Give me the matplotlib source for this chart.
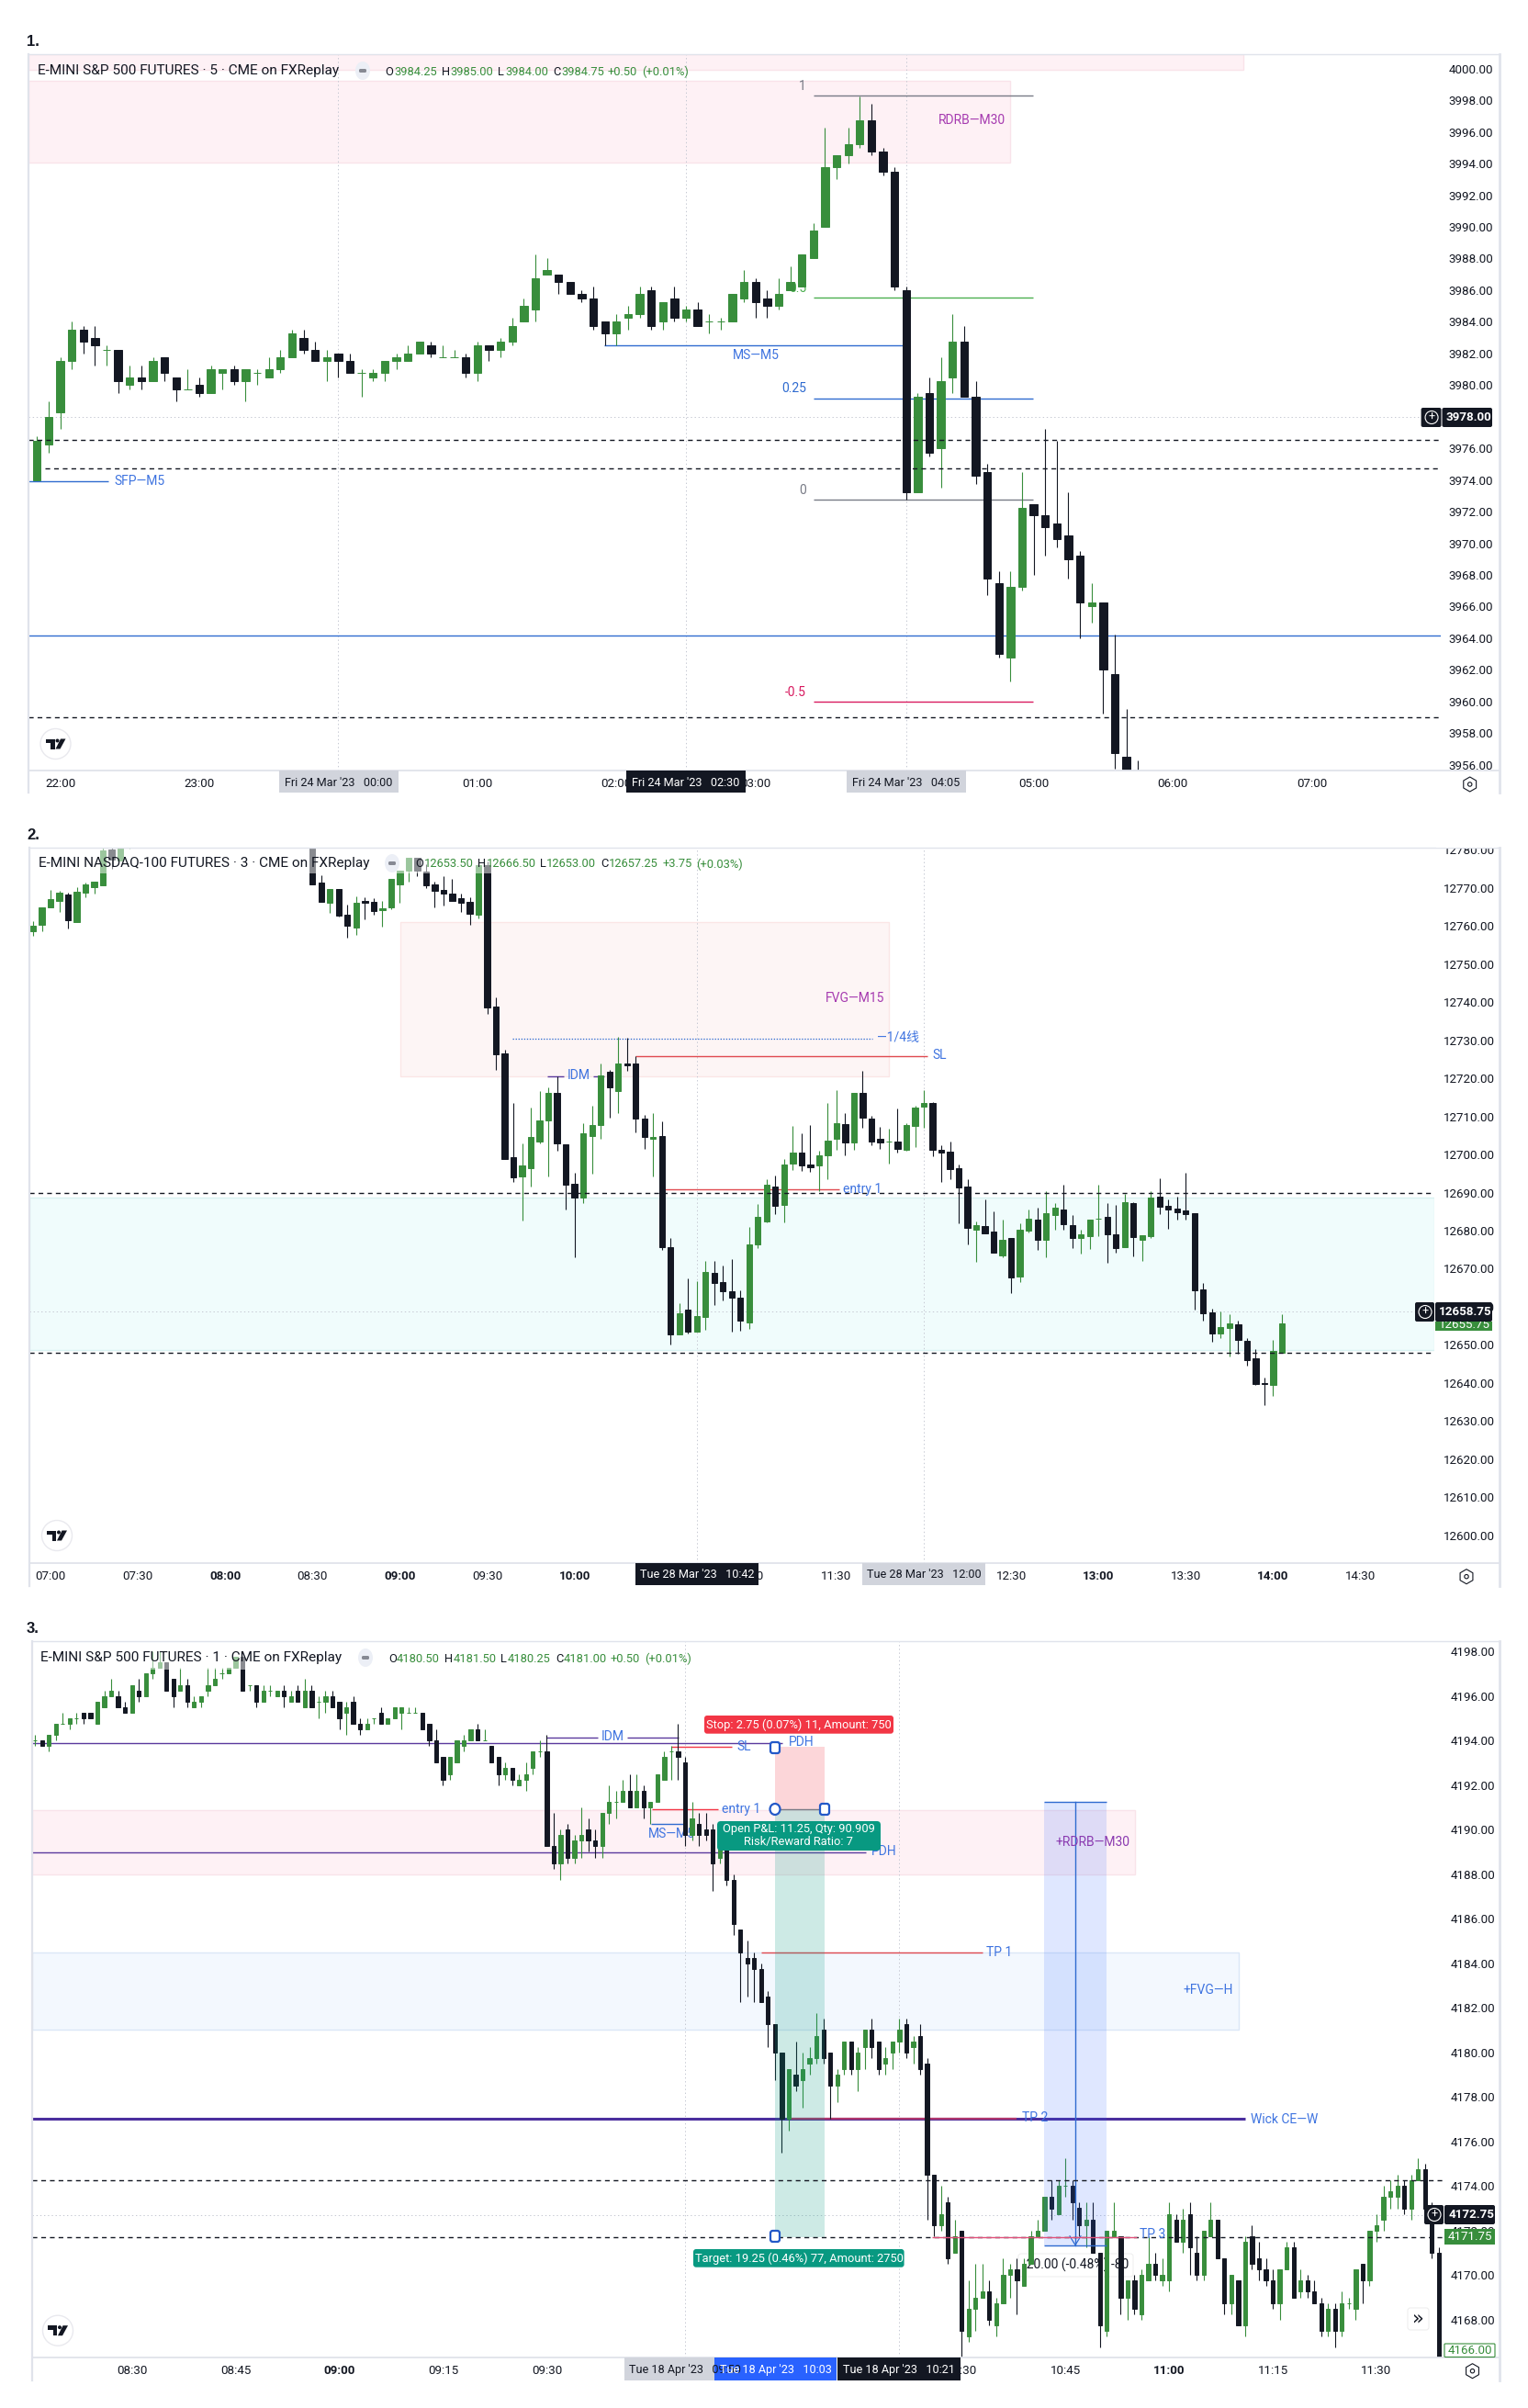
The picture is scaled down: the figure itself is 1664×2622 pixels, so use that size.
import matplotlib
matplotlib.use('Agg')
import matplotlib.pyplot as plt
import numpy as np
from matplotlib.lines import Line2D
from matplotlib.patches import Rectangle, Circle, Ellipse, Polygon, RegularPolygon, FancyBboxPatch
from matplotlib.transforms import Affine2D, blended_transform_factory

plt.rcParams['font.family'] = ['Liberation Sans Narrow', 'Roboto', 'Noto Sans CJK SC', 'DejaVu Sans']
plt.rcParams['lines.scale_dashes'] = False

# chart 1, 5 minute bars
o1 = [3974,3976.25,3978.25,3981.5,3983.5,3983,3982.25,3982.25,3980,3980.5,
      3980.25,3981.75,3980.5,3979.75,3980,3979.5,3980.75,3981,3980.25,3980.75,
      3980.5,3981,3981.75,3983,3982.25,3981.5,3982,3981.5,3980.75,3980.5,
      3980.75,3981.5,3981.5,3982,3982.5,3981.75,3981.75,3981.75,3980.75,3982.5,
      3982.25,3982.75,3984,3984.75,3987,3987,3986.5,3985.75,3985.5,3984,
      3983.25,3984.25,3984.5,3986,3984,3985.5,3984.25,3984.75,3984,3984,
      3984,3985.5,3986.5,3985.5,3985,3986,3986.25,3988,3990,3993.75,
      3994.5,3995.25,3996.75,3994.75,3993.5,3986,3973.25,3979.5,3976,3980.5,
      3982.75,3979.25,3974.5,3967.5,3962.75,3967.25,3972.5,3971.75,3971.25,3970.5,
      3969.25,3966,3966.25,3961.75,3956.5,3955]
h1 = [3976.75,3979,3981.75,3984,3983.75,3983.75,3982.5,3982.25,3981.25,3981.25,
      3981.75,3981.75,3980.5,3981,3980.5,3981.25,3981,3981.25,3981,3981,
      3981.75,3982.25,3983.5,3983.5,3982.75,3982.25,3982,3982,3981,3981,
      3981.5,3982,3982.5,3982.75,3982.75,3982.5,3982.25,3982,3982.75,3982.5,
      3983,3984.25,3985.5,3988.25,3988,3987,3986.5,3986,3986.25,3984,
      3984.5,3985,3986.25,3986.25,3985.25,3986.25,3985,3985.25,3984.5,3984.25,
      3985.75,3987.25,3986.75,3986,3986.75,3987.5,3988.25,3990.25,3996.25,3994.5,
      3996.25,3998.25,3997.75,3995,3993.75,3986.25,3979.5,3980.5,3981.75,3984.5,
      3983.75,3980.25,3975,3968.25,3968.25,3974.5,3972.5,3977.25,3976.5,3973.25,
      3969.5,3967.5,3966.25,3964.25,3959.5,3956.25]
l1 = [3974,3975.75,3977.25,3981,3982,3981.25,3981.25,3979.5,3979.75,3979.75,
      3980.25,3980.25,3979,3979.75,3979.25,3979.5,3979.75,3980,3979,3980,
      3980.5,3980.75,3981.75,3982,3981.5,3980.25,3980.5,3980.75,3979.25,3980.25,
      3980.25,3981,3981.5,3982,3981.75,3981.75,3981.75,3980.5,3980.25,3981.5,
      3981.75,3982.5,3984,3984,3987,3985.75,3985.75,3985.25,3983.5,3982.5,
      3982.5,3983.5,3984.25,3983.5,3983.5,3984,3984,3983.75,3983.25,3983.5,
      3984,3985.25,3984.25,3984.25,3984.75,3986,3986.25,3988,3990,3993,
      3994,3995,3994.5,3993.25,3986,3972.75,3973.25,3975.5,3973.5,3979.5,
      3979.25,3973.75,3966.75,3962.75,3961.25,3967,3968,3969.25,3969.75,3967.75,
      3964,3965,3959.25,3955.75,3955,3954]
c1 = [3976.5,3978,3981.5,3983.5,3982.75,3982.5,3982.25,3980.25,3980.5,3980.25,
      3981.5,3980.75,3979.75,3979.75,3979.5,3981,3981,3980.25,3981,3980.75,
      3981,3981.75,3983.25,3982.25,3981.5,3981.75,3981.5,3980.75,3980.75,3980.75,
      3981.5,3981.75,3982,3982.75,3982,3981.75,3981.75,3980.75,3982.5,3982.25,
      3982.75,3983.75,3985,3986.75,3987.25,3986.5,3985.75,3985.5,3983.75,3983.25,
      3984,3984.5,3985.75,3983.75,3985.25,3984.25,3984.75,3983.75,3984,3984,
      3985.75,3986.5,3985.25,3985,3985.75,3986.5,3988.25,3989.75,3993.75,3994.5,
      3995.25,3996.75,3994.75,3993.5,3986.25,3973.25,3979.25,3975.75,3980.25,3982.75,
      3979.25,3974.25,3967.75,3963,3967.25,3972.25,3971.75,3971,3970.25,3969,
      3966.25,3966.25,3962,3956.75,3955.25,3954.5]
x1 = list(range(96))
yticks1 = [3956,3958,3960,3962,3964,3966,3968,3970,3972,3974,3976,3978,3980,3982,3984,3986,3988,3990,3992,3994,3996,3998,4000]
xticks1 = [2,14,38,50,62,86,98,110]
xlabels1 = ['22:00','23:00','01:00','02:00','03:00','05:00','06:00','07:00']

# chart 2, 3 minute bars (the ones between 12 and 31 are above the visible range)
x2 = list(range(12)) + list(range(32,144))
o2 = [12758.5,12760.25,12765,12766.5,12768.25,12761,12768.75,12770.25,12770.75,12780,12777.25,12782,
      12782,12771.5,12766,12769.75,12763,12759.5,12766.5,12766.25,
      12764.25,12765,12771,12774.5,12778,12774.25,12771,12769.5,12768.5,12767.25,
      12766.25,12763,12776,12738.75,12726.5,12699.25,12694.25,12696.5,12703.5,12709,
      12716.25,12702.75,12692.25,12688.75,12704.75,12707.75,12721.75,12716.75,12724,12724,
      12709.5,12704,12704.75,12675.75,12652.75,12659.25,12653.5,12657.25,12669,12666.5,
      12664,12662.5,12656,12676.5,12682.5,12691.5,12686.75,12697.5,12700.5,12697.25,
      12697,12699.75,12704,12708,12703.25,12716.25,12709.5,12704,12703.5,12703.5,
      12701.25,12707.5,12712.5,12713.5,12701.25,12700.75,12696.5,12691.5,12680.25,12681.25,
      12679.75,12673.5,12678,12668,12680,12683,12677.5,12684,12685.5,12681.5,
      12678,12678.5,12683.25,12683.5,12679,12675.75,12687.25,12677.5,12678.5,12689,
      12686.5,12685.75,12685.25,12684.5,12664.5,12658.5,12653,12654.5,12655.5,12651,
      12646.5,12640,12639.5,12648]
h2 = [12761.25,12765,12769.5,12769.25,12768.75,12770.25,12771.5,12771.75,12780.5,12781,12783,12786,
      12783,12773.25,12769.75,12769.75,12765.5,12767.75,12767.5,12767.25,
      12766.5,12772.25,12774.5,12778,12778,12776.25,12771.75,12773,12772.25,12768.5,
      12767.5,12777,12777,12741.25,12727.5,12713.5,12703,12712.25,12716.75,12717.5,
      12720.5,12702.75,12695.25,12708.25,12712.75,12724,12722.25,12731,12730.75,12725.75,
      12710.5,12710.75,12708.75,12678,12661,12667.5,12666.75,12672,12672,12670.75,
      12672.5,12664.25,12681,12687,12693.5,12694.5,12698.75,12707.5,12705.5,12707.75,
      12701,12713.5,12717,12710.75,12716.25,12722,12710.25,12707.25,12706.75,12712,
      12708.25,12712.75,12717,12713.75,12702.5,12703.5,12697.25,12693.5,12682.5,12688.25,
      12685,12683,12678,12682,12685.5,12686,12690.25,12687.25,12692,12684,
      12680.25,12683,12692,12687.25,12686.75,12689.75,12687.5,12678.75,12690.25,12693.75,
      12688.25,12689,12695.25,12684.5,12666.25,12659.5,12658.75,12658,12656.25,12651.75,
      12649,12641.5,12651.25,12658]
l2 = [12757.5,12758.5,12765,12763.75,12759.25,12761,12767.5,12768.5,12770.75,12775,12777.25,12780.25,
      12771,12766.25,12763.5,12762.5,12757,12757.75,12761.75,12763,
      12759.75,12764.5,12766,12771.75,12773,12770,12765,12765.25,12766.5,12763.75,
      12760.25,12762,12737,12722.25,12698.75,12692.75,12682.75,12691.5,12703,12694.25,
      12701,12685.5,12673,12687.25,12695,12704,12709.75,12710.75,12722,12705.75,
      12701.5,12694.25,12675,12650,12652.75,12653,12653.5,12654,12660.5,12661.75,
      12653.5,12653.75,12654.25,12675.5,12682.25,12684.25,12682.25,12696,12695.75,12695.5,
      12690.25,12693.5,12701.25,12699.75,12701.25,12707,12702.5,12701.5,12697.5,12700.5,
      12701,12702,12707,12699.5,12692.75,12693.5,12682,12676.5,12671.75,12679.25,
      12674.25,12673,12663.5,12666.5,12679.5,12675,12673,12680.25,12680.25,12675.5,
      12674,12675.25,12678.5,12671.5,12674.25,12675.75,12673.25,12672,12678,12684.25,
      12680.5,12683,12683,12659.25,12656.25,12650.75,12651.75,12647,12647.75,12644.5,
      12639.5,12634.25,12636.5,12648]
c2 = [12760,12765,12767,12768.75,12761.5,12769,12771,12771.75,12779.75,12777.5,12781.5,12784,
      12771,12766.25,12769.75,12762.75,12760,12766,12766,12764,
      12764.75,12772.25,12774.5,12778,12774.5,12770.75,12769.25,12768.5,12766.5,12766,
      12763.25,12776,12738.5,12726.25,12698.75,12694,12697,12704.5,12709,12716.25,
      12703,12692,12688.75,12705.5,12707.75,12720.75,12717.5,12724,12723.5,12709.5,
      12704.5,12704.5,12675.75,12652.75,12658.25,12653.5,12657.5,12669.25,12666.25,12664,
      12662.5,12656.25,12676.5,12683.5,12692,12686.5,12697.25,12700.5,12697,12696.75,
      12699.75,12703.75,12708.25,12703.25,12716.25,12709.75,12703.5,12703.25,12703.5,12701.5,
      12707.75,12712.25,12713.5,12701.25,12700.5,12696.25,12691.25,12680.75,12681.5,12679.25,
      12674.25,12677.5,12667.75,12680.25,12683.25,12677.5,12684.5,12686,12681.75,12678,
      12679,12683,12683.25,12679,12675.5,12687.5,12678.25,12678.75,12688.75,12686.25,
      12685.5,12684.75,12684.25,12664.25,12658.25,12653,12654.75,12655.75,12651.25,12646,
      12639.75,12639.75,12648.5,12655.75]
yticks2 = [12600,12610,12620,12630,12640,12650,12660,12670,12680,12690,12700,12710,12720,12730,12740,12750,12760,12770,12780]
xticks2 = [2,12,22,32,42,52,62,82,92,112,122,132,142,152]
xlabels2 = ['07:00','07:30','08:00','08:30','09:00','09:30','10:00','11:00','11:30','12:30','13:00','13:30','14:00','14:30']

# chart 3, 1 minute bars
o3 = [4194,4194,4193.75,4194.25,4194.75,4194.75,4195,4195.25,4195.25,4194.75,
      4195.5,4196,4196,4195.5,4195.25,4196.25,4196,4197,4197.25,4197.5,
      4196.75,4196.25,4196.5,4195.5,4195.75,4196.25,4196.5,4197,4197,4197.25,
      4197.75,4196.5,4196.5,4195.75,4196.25,4196,4196.25,4195.75,4196.25,4195.5,
      4196.25,4195.75,4195.75,4196,4195.75,4195.25,4195.75,4194.75,4194.5,4195,
      4195.25,4194.75,4195,4195.25,4195.25,4195.25,4195.25,4194.75,4194,4193.25,
      4192.5,4193,4193.75,4194,4194.5,4194,4193.75,4193.25,4192.5,4192.75,
      4192,4192.25,4192.75,4193.5,4193.5,4189.25,4188.5,4190,4188.75,4189.5,
      4190,4189.5,4189.25,4190.75,4191.25,4191.25,4191.75,4191,4191.75,4191,
      4191.25,4192.25,4193.5,4193.5,4193,4189.75,4190.25,4190,4190,4188.75,
      4189.5,4187.75,4185.5,4184.25,4184.25,4183.75,4182.5,4181.25,4180,4177,
      4179,4178.75,4179.5,4179.75,4181,4180,4178.5,4179.25,4180.5,4179.25,
      4180.25,4181,4180.5,4179.5,4180,4180.5,4181.25,4180.25,4180.75,4179.5,
      4174.5,4172.25,4173.25,4171,4172,4167.25,4168.5,4169,4169.25,4167.75,
      4168.75,4170,4170.25,4169.5,4170.5,4171.75,4172,4173.5,4172.75,4174,
      4174,4173,4172.25,4172.5,4171,4167.5,4171.75,4171.75,4169,4169.75,
      4168.25,4169.75,4170.5,4169.75,4169.75,4172.5,4171.5,4172.75,4171,4170,
      4171.75,4172.5,4170.75,4168.75,4169.75,4167.75,4171.75,4170.75,4170.25,4169.75,
      4168.75,4170.25,4171.25,4169.25,4169.75,4169.25,4168.75,4167.5,4168.5,4167.5,
      4168.75,4168.5,4170.5,4169.75,4172,4172.5,4173.5,4173.5,4174,4173,
      4174.25,4174.75,4173,4171]
h3 = [4194.25,4194,4194.25,4194.75,4195.25,4195,4195.25,4195.25,4195.25,4195.75,
      4196.25,4196.75,4196.25,4195.75,4196.5,4196.75,4197,4198,4198,4197.5,
      4196.75,4197.25,4196.75,4196,4196,4197.25,4197.25,4197.25,4197.25,4197.75,
      4197.75,4196.5,4196.5,4196.5,4196.5,4196.25,4196.5,4196.25,4196.5,4196.75,
      4196.5,4196,4196.25,4196.25,4195.75,4195.75,4196,4195,4195,4195,
      4195.5,4195,4195.5,4195.5,4195.5,4195.5,4195.25,4194.75,4194.5,4193.25,
      4193.25,4194,4194.25,4194.5,4194.75,4194.5,4193.75,4193.25,4193,4192.75,
      4192.5,4193,4193.5,4194,4194.25,4190.75,4190,4190.25,4189.75,4191,
      4190.5,4190,4190.75,4192,4191.75,4192.25,4192.5,4192.5,4192,4191.25,
      4192.5,4193.5,4193.75,4194.75,4193.25,4191.25,4190.75,4190.75,4190.25,4189.75,
      4189.5,4188,4185.5,4185,4184.5,4184,4182.75,4181.25,4180,4179.25,
      4180.5,4180,4180.25,4181.75,4181.5,4180,4179.25,4180.5,4180.5,4180.25,
      4181,4181.5,4180.5,4180.25,4180.5,4181.5,4181.5,4180.75,4181.25,4179.75,
      4174.5,4174,4173.5,4172.5,4172,4169.75,4170.5,4170.5,4169.75,4169,
      4170.75,4170.5,4170.75,4170.75,4172,4172.5,4173.5,4174.25,4174.25,4175.25,
      4174.25,4173.25,4173.25,4173.25,4171,4172,4173.25,4171.75,4169.75,4170,
      4170.25,4171.75,4171,4170.75,4173.25,4172.75,4173,4173.25,4171.75,4172,
      4173.25,4172.5,4170.75,4170,4169.75,4171.75,4172.25,4171.5,4170.75,4170.25,
      4170.25,4171.5,4171.5,4170.25,4170,4169.75,4169,4168.75,4168.75,4169.25,
      4169,4170.25,4170.5,4172,4172.75,4174,4174.25,4174.5,4174.25,4174.5,
      4175.25,4175,4173.25,4171.25]
l3 = [4193.75,4193.75,4193.5,4194,4194.75,4194.5,4194.75,4194.75,4195,4194.75,
      4195.5,4196,4195.5,4195.25,4195.25,4195.75,4196,4196.75,4197.25,4196.25,
      4195.5,4196.25,4195.5,4195.5,4195.5,4196,4196.5,4196.75,4197,4197.25,
      4196.25,4196.25,4195.5,4195.75,4196,4196,4195.5,4195.75,4195.75,4195.5,
      4195.5,4195,4195.25,4195.5,4194.5,4194.25,4194.75,4194.25,4194.5,4194.75,
      4194.75,4194.75,4195,4194.5,4195.25,4195.25,4194.5,4193.75,4193,4192,
      4192.25,4193,4193.5,4194,4194,4194,4193,4192,4192.25,4192,
      4192,4191.75,4192.5,4193.25,4189.25,4188.25,4187.75,4188.5,4188.5,4188.75,
      4189,4188.75,4188.75,4190.25,4190.5,4191.25,4191,4191,4190.5,4190.25,
      4191.25,4192.25,4192.25,4192.25,4189.25,4189.5,4189.25,4189.5,4187.25,4188.5,
      4187.5,4185.25,4182.25,4182.5,4182.25,4182.25,4180.25,4178.75,4175.5,4176.5,
      4178.25,4177.5,4179,4179.5,4179.5,4177,4177.75,4179,4179,4178.25,
      4179.25,4179.75,4179,4179,4179.25,4180,4179.75,4179.5,4179,4172.5,
      4171.75,4172,4170.5,4171,4166,4167,4167.5,4169,4167.75,4167.25,
      4168.75,4169,4168.25,4169.5,4170.5,4171.75,4172,4172.5,4172.75,4173.5,
      4172.5,4171.75,4171.25,4171,4166.75,4167.25,4171.75,4168.25,4168,4168.25,
      4168,4169.75,4169.75,4169.5,4169.25,4171.5,4171,4170,4169.75,4169.75,
      4171.75,4170.75,4168.25,4168.25,4167.75,4167.25,4170.25,4169.75,4169.5,4168.5,
      4168,4170.25,4169,4169,4169,4168.75,4167.25,4167.25,4166.75,4167.25,
      4168.5,4168,4168.75,4169.5,4171.5,4172,4173,4173,4172.75,4172.5,
      4174.25,4173,4170.75,4165]
c3 = [4194,4193.75,4194.25,4194.75,4194.75,4195,4195,4195,4195,4195.75,
      4196,4196.25,4195.5,4195.25,4196.5,4196,4197,4197.25,4197.5,4196.25,
      4196,4196.5,4195.75,4195.75,4196,4196.5,4196.75,4197,4197.25,4197.75,
      4196.25,4196.5,4195.75,4196.25,4196.25,4196.25,4196,4196,4195.75,4196.25,
      4195.5,4195.75,4196,4195.5,4195,4195.5,4194.75,4194.5,4194.75,4195,
      4194.75,4195,4195.5,4195.5,4195.25,4195.25,4194.5,4194,4193,4192.25,
      4193.25,4194,4194,4194.5,4194,4194,4193,4192.5,4192.75,4192.25,
      4192.25,4192.5,4193.5,4193.5,4189.25,4188.5,4189.75,4188.75,4189.5,4189.75,
      4189.5,4189.25,4190.75,4191.25,4191.25,4191.75,4191,4191.75,4191,4191.25,
      4192.5,4193.25,4193.5,4193.25,4189.75,4190.5,4189.75,4189.75,4188.5,4189.5,
      4187.75,4185.75,4184.5,4184,4183.75,4182.25,4181.25,4180,4177,4179.25,
      4178.5,4179.25,4179.75,4180.75,4179.75,4178.5,4179,4180.5,4179.25,4180,
      4181,4180.25,4179.25,4179.75,4180.5,4181,4180,4180.5,4179.25,4174.5,
      4172.25,4172.75,4170.75,4171.75,4167.5,4168.5,4169,4169.25,4168,4168.75,
      4170,4170.25,4169.75,4170.5,4171.75,4172,4173.5,4173,4174,4174,
      4173.25,4172.25,4172.5,4171,4167.75,4172,4172,4169,4169.75,4168.5,
      4170,4170.5,4170,4170,4172.75,4171.5,4172.5,4171.25,4170,4172,
      4172.5,4170.75,4168.75,4170,4167.75,4171.5,4170.5,4170.25,4169.75,4168.75,
      4170.25,4171.25,4169,4169.75,4169.25,4168.75,4167.5,4168.5,4167.5,4168.75,
      4168.75,4170.25,4169.75,4172,4172.25,4173.5,4173.75,4174,4173,4174.25,
      4174.75,4173,4171,4165.5]
x3 = list(range(204))
yticks3 = [4168,4170,4172,4174,4176,4178,4180,4182,4184,4186,4188,4190,4192,4194,4196,4198]
xticks3 = [14,29,44,59,74,134,149,164,179,194]
xlabels3 = ['08:30','08:45','09:00','09:15','09:30','10:30','10:45','11:00','11:15','11:30']

GREEN = '#388e3c'
BLACK = '#131722'
TEAL = '#089981'
RED = '#f23645'
BLUE = '#2f6bd0'
LBLUE = '#3f74e0'
PURPLE = '#5b3a9e'
MAGENTA = '#a63bb0'
GRID = '#e0e3eb'
DOT = '#c5c8d2'
DASH = (0, (3.7, 3.1))
PINK = '#fef1f5'
PINK_E = '#f9e3ea'

W, H = 1664, 2622
fig = plt.figure(figsize=(W/100, H/100), dpi=100, facecolor='white')
PX = Affine2D().scale(1/W, -1/H).translate(0, 1) + fig.transFigure


def panel(x0, y0, x1, y1, xlim, ylim):
    ax = fig.add_axes([x0/W, 1-y1/H, (x1-x0)/W, (y1-y0)/H], facecolor='none')
    ax.set_xlim(*xlim)
    ax.set_ylim(*ylim)
    ax.set_autoscale_on(False)
    for s in ax.spines.values():
        s.set_visible(False)
    ax.yaxis.tick_right()
    ax.tick_params(length=0, labelcolor=BLACK)
    return ax


def candles(ax, x, o, h, l, c, w):
    x, o, h, l, c = map(np.array, (x, o, h, l, c))
    cols = [GREEN if b >= a else BLACK for a, b in zip(o, c)]
    ax.vlines(x, l, h, colors=cols, lw=0.8, zorder=3)
    ax.bar(x, np.abs(c-o), bottom=np.minimum(o, c), width=w, color=cols, edgecolor=cols, linewidth=0.7, zorder=3)


def ticks(ax, xt, xl, yt, padx, pady, strong=()):
    ax.set_xticks(xt)
    ax.set_xticklabels(xl, fontsize=9.6)
    ax.set_yticks(yt)
    ax.set_yticklabels(['%.2f' % v for v in yt], fontsize=9.6)
    ax.tick_params(axis='x', pad=padx)
    ax.tick_params(axis='y', pad=pady)
    for t in ax.get_xticklabels():
        if t.get_text() in strong:
            t.set_fontweight('bold')


def bt(ax):
    return blended_transform_factory(PX, ax.transData)


def hl(ax, p, x0, x1, color, lw=1.0, ls='-', z=2.2):
    ax.plot([x0, x1], [p, p], transform=bt(ax), color=color, lw=lw, ls=ls, zorder=z, solid_capstyle='butt')


def zone(ax, x0, x1, p0, p1, fc, ec=None, alpha=None, z=1):
    ax.add_patch(Rectangle((x0, p0), x1-x0, p1-p0, transform=bt(ax), facecolor=fc, edgecolor=ec or 'none',
                           lw=1.0, alpha=alpha, zorder=z))


def note(ax, x, y, s, color, ha='left', size=10, z=4, **kw):
    ax.text(x, y, s, transform=PX, color=color, ha=ha, va='center', fontsize=size, zorder=z, clip_on=False, **kw)


def box(x0, y0, x1, y1, color, r=0, z=5, ec='none', lw=0):
    fig.add_artist(FancyBboxPatch((x0, y0), x1-x0, y1-y0, boxstyle='round,pad=0,rounding_size=%g' % r, transform=PX,
                                  facecolor=color, edgecolor=ec, lw=lw, zorder=z))


def txt(x, y, s, color=BLACK, ha='center', size=9.6, z=6, **kw):
    fig.text(x, y, s, transform=PX, color=color, ha=ha, va='center', fontsize=size, zorder=z, **kw)


def vdots(ax, xs):
    for x in xs:
        ax.axvline(x, color=DOT, lw=0.7, ls=(0, (1, 2)), zorder=1.5)


def time_box(x0, y0, x1, y1, s, color, fg):
    box(x0, y0, x1, y1, color)
    txt((x0+x1)/2, (y0+y1)/2+1, s, fg, size=9.1)


def price_box(x0, y0, x1, y1, s, btn=None):
    box(x0, y0, x1, y1, BLACK, r=2, z=7)
    txt(x0+(x1-x0)*0.53, (y0+y1)/2, s, 'white', fontweight='bold', z=8)
    if btn:
        box(btn, y0, x0-1, y1, BLACK, r=2, z=7)
        cx = (btn+x0)/2
        fig.add_artist(Circle((cx, (y0+y1)/2), 7, transform=PX, fc='none', ec='white', lw=0.8, zorder=8))
        txt(cx, (y0+y1)/2, '+', 'white', z=8, size=9)


def frame(x0, y0, yb, ybot, x1=1633):
    fig.add_artist(Line2D([x0, x1], [y0, y0], transform=PX, color=GRID, lw=1.0, zorder=2))
    fig.add_artist(Line2D([x0, x1], [yb, yb], transform=PX, color=GRID, lw=1.3, zorder=2))
    fig.add_artist(Line2D([x0, x0], [y0, ybot], transform=PX, color=GRID, lw=1.6, zorder=2))
    fig.add_artist(Line2D([x1, x1], [y0, ybot], transform=PX, color=GRID, lw=2.0, zorder=2))


def legend(y, title, xt, btn, parts):
    txt(xt, y, title, BLACK, ha='left', size=11.1)
    fig.add_artist(Ellipse((btn, y), 16, 20, transform=PX, fc='#eceff6', ec='none', zorder=6))
    box(btn-4, y-2, btn+4, y+2, '#868993', r=1.5, z=7)
    for x, s, col in parts:
        txt(x, y+1, s, col, ha='left', size=9.3)


def logo(cx, cy):
    fig.add_artist(Ellipse((cx, cy), 33, 33, transform=PX, fc='white', ec='#e9e9ee', lw=1, zorder=6))
    pts = [(-11, -5.5), (-1, -5.5), (-1, 5.5), (-5.5, 5.5), (-5.5, -1), (-11, -1)]
    fig.add_artist(Polygon([(cx+a, cy+b) for a, b in pts], transform=PX, fc=BLACK, ec='none', zorder=7))
    fig.add_artist(Circle((cx+2, cy-3.5), 2, transform=PX, fc=BLACK, ec='none', zorder=7))
    pts = [(5.5, -5.5), (11, -5.5), (5, 5.5), (0, 5.5)]
    fig.add_artist(Polygon([(cx+a, cy+b) for a, b in pts], transform=PX, fc=BLACK, ec='none', zorder=7))


def gear(cx, cy):
    fig.add_artist(RegularPolygon((cx, cy), 6, radius=8, transform=PX, fc='none', ec=BLACK, lw=0.8, zorder=6))
    fig.add_artist(Circle((cx, cy), 2.2, transform=PX, fc='none', ec=BLACK, lw=0.8, zorder=6))


# ---------- chart 1 ----------
txt(29, 45, '1.', BLACK, ha='left', size=12, fontweight='bold', family='Liberation Sans')
a1 = panel(31, 59, 1569, 839, ((31-40.3)/12.62, (1569-40.3)/12.62), (3955.64, 4000.91))
frame(31, 59, 839, 863)
candles(a1, x1, o1, h1, l1, c1, 0.66)
ticks(a1, xticks1, xlabels1, yticks1, 5.5, 6)
vdots(a1, [26, 56, 75])
zone(a1, 31, 1353.5, 4000.91, 3999.9, PINK, PINK_E)
zone(a1, 31, 1100, 3999.25, 3994.05, PINK, PINK_E)
hl(a1, 3978, 31, 1547, DOT, 0.7, (0, (1, 2)), 1.5)
hl(a1, 3976.55, 31, 1569, BLACK, 1.0, DASH, 3.5)
hl(a1, 3974.75, 49, 1569, BLACK, 1.0, DASH, 3.5)
hl(a1, 3959, 31, 1569, BLACK, 1.0, DASH, 3.5)
hl(a1, 3964.2, 31, 1569, BLUE)
hl(a1, 3973.9, 31, 118, BLUE)
hl(a1, 3982.5, 658, 983, BLUE, z=2)
note(a1, 124, 524, 'SFP—M5', LBLUE, z=4)
note(a1, 823, 387, 'MS—M5', LBLUE, ha='center')
note(a1, 1095, 131, 'RDRB—M30', MAGENTA, ha='right')
for p, col, lab, y in [(3998.28, '#787b86', '1', 94), (3985.53, '#4caf50', '0.5', 314), (3979.13, BLUE, '0.25', 423),
                       (3972.77, '#787b86', '0', 534), (3960, '#d81b60', '-0.5', 754)]:
    hl(a1, p, 885.6, 1125.4, col, z=2)
    note(a1, 878, y, lab, col, ha='right', z=2.5)
legend(77, 'E-MINI S&P 500 FUTURES · 5 · CME on FXReplay', 41, 395,
       [(419.6, 'O', BLACK), (429.7, '3984.25', GREEN), (481, 'H', BLACK), (490.7, '3985.00', GREEN),
        (542, 'L', BLACK), (550, '3984.00', GREEN), (602, 'C', BLACK), (611, '3984.75', GREEN),
        (662, '+0.50', GREEN), (699, '(+0.01%)', GREEN)])
price_box(1570.5, 444, 1625, 465, '3978.00', btn=1547.6)
time_box(304, 839, 434, 863, "Fri 24 Mar '23   00:00", '#d1d4dc', BLACK)
time_box(682, 839, 812, 863, "Fri 24 Mar '23   02:30", BLACK, 'white')
time_box(922, 839, 1052, 863, "Fri 24 Mar '23   04:05", '#d1d4dc', BLACK)
logo(60.5, 810)
gear(1600.7, 854)

# ---------- chart 2 ----------
txt(29, 909, '2.', BLACK, ha='left', size=12, fontweight='bold', family='Liberation Sans')
a2 = panel(32, 923, 1562, 1702, ((32-36)/9.51, (1562-36)/9.51), (12592.7, 12780.56))
frame(32, 923, 1702, 1727)
candles(a2, x2, o2, h2, l2, c2, 0.66)
ticks(a2, xticks2, xlabels2, yticks2, 5.5, 7, strong=('08:00', '09:00', '10:00', '13:00', '14:00'))
vdots(a2, [76, 102])
zone(a2, 436, 968, 12761, 12720.6, '#fdf5f5', '#fbe6e6')
zone(a2, 32, 1562, 12688.7, 12648.6, '#f0fcfc', '#d9f2f2')
hl(a2, 12658.75, 32, 1541, DOT, 0.7, (0, (1, 2)), 1.5)
hl(a2, 12689.8, 32, 1562, BLACK, 1.0, DASH, 3.5)
hl(a2, 12648, 32, 1562, BLACK, 1.0, DASH, 3.5)
hl(a2, 12730.5, 558, 950, BLUE, 0.9, (0, (1, 1.2)), 2)
hl(a2, 12725.7, 692, 1010, '#e04a50', z=2)
hl(a2, 12690.75, 724, 914, '#e04a50', z=2)
hl(a2, 12720.5, 596, 614, PURPLE, z=2)
hl(a2, 12720.5, 646, 658, PURPLE, z=2)
note(a2, 630, 1171, 'IDM', LBLUE, ha='center', z=2.5)
note(a2, 963, 1087, 'FVG—M15', MAGENTA, ha='right')
note(a2, 955, 1130, '—1/4线', LBLUE)
note(a2, 1015, 1149, 'SL', LBLUE)
note(a2, 918, 1295, 'entry 1', LBLUE)
a2.add_patch(Rectangle((32, 923), 504, 28, transform=PX, fc='white', ec='none', alpha=0.5, zorder=3.4))
legend(940, 'E-MINI NASDAQ-100 FUTURES · 3 · CME on FXReplay', 42, 427,
       [(452, 'O', BLACK), (461.5, '12653.50', GREEN), (520, 'H', BLACK), (529.4, '12666.50', GREEN),
        (588, 'L', BLACK), (595, '12653.00', GREEN), (654, 'C', BLACK), (663, '12657.25', GREEN),
        (721.5, '+3.75', GREEN), (758.6, '(+0.03%)', GREEN)])
box(1564, 905, 1630, 923, 'white', z=4)
box(1563, 1439, 1625, 1449, GREEN, z=6)
txt(1595, 1442, '12655.75', 'white', z=6.5)
price_box(1563, 1418, 1625, 1439, '12658.75', btn=1541)
time_box(692, 1702, 826, 1726, "Tue 28 Mar '23   10:42", BLACK, 'white')
time_box(939, 1702, 1073, 1726, "Tue 28 Mar '23   12:00", '#d1d4dc', BLACK)
logo(62, 1672)
gear(1597, 1716.7)

# ---------- chart 3 ----------
txt(29, 1773, '3.', BLACK, ha='left', size=12, fontweight='bold', family='Liberation Sans')
a3 = panel(35, 1787, 1573, 2567, ((35-38.2)/7.53, (1573-38.2)/7.53), (4166.30, 4198.46))
frame(35, 1787, 2567, 2592)
candles(a3, x3, o3, h3, l3, c3, 0.56)
ticks(a3, xticks3, xlabels3, yticks3, 5.5, 5, strong=('09:00', '11:00'))
vdots(a3, [94, 125])
zone(a3, 35, 1235.7, 4190.86, 4188, PINK, PINK_E)
zone(a3, 35, 1348.7, 4184.47, 4181, '#f3f8fe', '#dbe7f7')
hl(a3, 4172.7, 35, 1551, DOT, 0.7, (0, (1, 2)), 1.5)
hl(a3, 4174.24, 35, 1573, BLACK, 1.0, DASH, 3.5)
hl(a3, 4171.72, 35, 1573, BLACK, 1.0, DASH, 3.5)
hl(a3, 4193.87, 35, 852, PURPLE, z=2)
hl(a3, 4188.96, 35, 943, PURPLE, z=2)
hl(a3, 4194.15, 595, 651, PURPLE, z=2)
hl(a3, 4194.15, 683, 738.5, PURPLE, z=2)
hl(a3, 4177, 35, 1356, '#4b2f9e', 2.2, z=2)
hl(a3, 4177, 861, 1107, '#b0386e', 1.6, z=2.1)
hl(a3, 4193.7, 731, 797, RED, z=2.2)
hl(a3, 4190.9, 710, 782, RED, z=2.2)
hl(a3, 4190.25, 709, 746, BLUE, z=2)
hl(a3, 4184.48, 828.6, 1069.6, '#e04a50', z=2.2)
hl(a3, 4171.72, 1015, 1238, '#e0507a', z=3.6)
# position tool and price range
zone(a3, 844, 898, 4193.7, 4190.9, RED, alpha=0.2, z=3.2)
zone(a3, 844, 898, 4190.9, 4171.72, TEAL, alpha=0.2, z=3.2)
hl(a3, 4190.9, 844, 898, '#787b86', 1.0, z=3.3)
zone(a3, 1137, 1205, 4191.23, 4171.35, '#2962ff', alpha=0.15, z=3.2)
hl(a3, 4191.23, 1137, 1205, BLUE, z=3.3)
hl(a3, 4171.35, 1137, 1205, BLUE, z=3.3)
a3.plot([1171, 1171], [4191.23, 4171.35], transform=bt(a3), color=BLUE, lw=1.0, zorder=3.3)
a3.plot([1165, 1171, 1177], [4171.75, 4171.35, 4171.75], transform=bt(a3), color=BLUE, lw=0.9, zorder=3.3)
a3.add_patch(FancyBboxPatch((1109, 2454), 125, 25, boxstyle='round,pad=0,rounding_size=3', transform=PX,
                            fc='white', ec='#eeeeee', lw=0.8, alpha=0.9, zorder=2.6))
note(a3, 1172, 2466, '-20.00 (-0.48%) -80', BLACK, ha='center', z=2.7)
note(a3, 667, 1891, 'IDM', LBLUE, ha='center')
note(a3, 802, 1902, 'SL', LBLUE)
note(a3, 786, 1970, 'entry 1', LBLUE)
note(a3, 705.6, 1997, 'MS—M5', LBLUE, z=2.5)
note(a3, 858.5, 1897, 'PDH', LBLUE)
note(a3, 948.7, 2016, 'PDH', LBLUE)
note(a3, 1074, 2126, 'TP 1', LBLUE)
note(a3, 1113, 2306, 'TP 2', LBLUE)
note(a3, 1241, 2433, 'TP 3', LBLUE)
note(a3, 1362, 2308, 'Wick CE—W', LBLUE)
note(a3, 1230, 2006, '+RDRB—M30', '#8a3ab0', ha='right')
note(a3, 1343, 2167, '+FVG—H', LBLUE, ha='right')
a3.add_patch(Rectangle((35, 1787), 235, 31, transform=PX, fc='white', ec='none', alpha=0.5, zorder=3.4))
legend(1805, 'E-MINI S&P 500 FUTURES · 1 · CME on FXReplay', 44, 398,
       [(423, 'O', BLACK), (432, '4180.50', GREEN), (484, 'H', BLACK), (494, '4181.50', GREEN),
        (545, 'L', BLACK), (553, '4180.25', GREEN), (605, 'C', BLACK), (614, '4181.00', GREEN),
        (665, '+0.50', GREEN), (702, '(+0.01%)', GREEN)])
box(767, 1868, 973, 1887.7, RED, r=3)
txt(870, 1878, 'Stop: 2.75 (0.07%) 11, Amount: 750', 'white', size=9.3)
box(781, 1983, 959, 2015, TEAL, r=4)
txt(870, 1992, 'Open P&L: 11.25, Qty: 90.909', 'white', size=9.3)
txt(870, 2005, 'Risk/Reward Ratio: 7', 'white', size=9.3)
box(755, 2449, 984.6, 2468.7, TEAL, r=3)
txt(870, 2459, 'Target: 19.25 (0.46%) 77, Amount: 2750', 'white', size=9.3)
# handles of the position tool
for cx, cy, rnd in [(844, 1903, True), (844, 1970, False), (898, 1970, True), (844, 2435, True)]:
    if rnd:
        box(cx-5, cy-6, cx+5, cy+6, 'white', r=2.5, z=6, ec='#2459c8', lw=1.6)
    else:
        fig.add_artist(Ellipse((cx, cy), 11, 12, transform=PX, fc='white', ec='#2459c8', lw=1.6, zorder=6))
box(1573, 2427, 1628, 2444, GREEN, z=6)
txt(1601, 2435.5, '4171.75', 'white', z=6.5)
price_box(1573, 2401, 1628, 2422, '4172.75', btn=1551)
box(1573, 2552, 1628, 2566.5, 'white', r=1, z=6, ec=GREEN, lw=0.8)
txt(1601, 2559.5, '4166.00', GREEN, z=6.5)
box(1533, 2513, 1556, 2537, 'white', r=3, z=6, ec='#eeeeee', lw=0.8)
txt(1544.5, 2524, '»', BLACK, size=15, z=7, family='DejaVu Sans')
time_box(680, 2567, 812, 2592, "Tue 18 Apr '23   09:50", '#d1d4dc', BLACK)
time_box(778, 2567, 911, 2592, "Tue 18 Apr '23   10:03", '#2962ff', 'white')
time_box(912, 2567, 1046, 2592, "Tue 18 Apr '23   10:21", BLACK, 'white')
logo(63, 2537.7)
gear(1603.5, 2581.7)

fig.savefig('out.png', dpi=100, facecolor='white')
